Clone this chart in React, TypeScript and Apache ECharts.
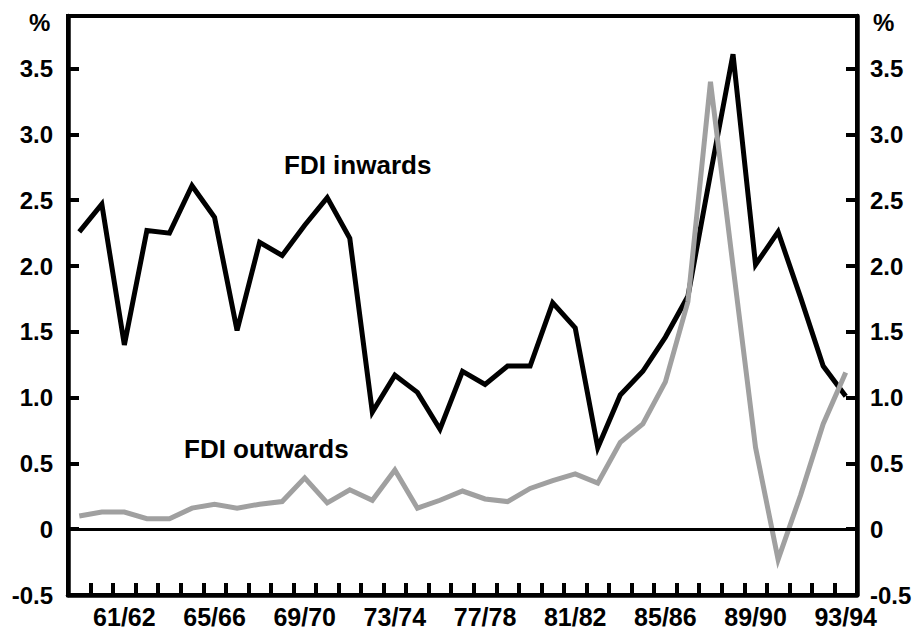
import React, { useEffect, useRef } from "react";
import * as echarts from "echarts";

const years: string[] = [
  "59/60", "60/61", "61/62", "62/63", "63/64", "64/65", "65/66", "66/67", "67/68", "68/69",
  "69/70", "70/71", "71/72", "72/73", "73/74", "74/75", "75/76", "76/77", "77/78", "78/79",
  "79/80", "80/81", "81/82", "82/83", "83/84", "84/85", "85/86", "86/87", "87/88", "88/89",
  "89/90", "90/91", "91/92", "92/93", "93/94",
];

const fdiInwards: number[] = [
  2.26, 2.47, 1.4, 2.27, 2.25, 2.61, 2.37, 1.51, 2.18, 2.08,
  2.31, 2.52, 2.21, 0.89, 1.17, 1.04, 0.76, 1.2, 1.1, 1.24,
  1.24, 1.72, 1.53, 0.62, 1.02, 1.2, 1.46, 1.77, 2.7, 3.61,
  2.01, 2.26, 1.76, 1.24, 1.01,
];

const fdiOutwards: number[] = [
  0.1, 0.13, 0.13, 0.08, 0.08, 0.16, 0.19, 0.16, 0.19, 0.21,
  0.39, 0.2, 0.3, 0.22, 0.45, 0.16, 0.22, 0.29, 0.23, 0.21,
  0.31, 0.37, 0.42, 0.35, 0.66, 0.8, 1.12, 1.73, 3.4, 2.0,
  0.62, -0.23, 0.26, 0.8, 1.19,
];

const yMin = -0.5;
const yMax = 3.9;
const yStep = 0.5;

const FONT = "'Liberation Sans', Arial, Helvetica, sans-serif";

export default function App() {
  const ref = useRef<HTMLDivElement>(null);

  useEffect(() => {
    if (!ref.current) return;
    const chart = echarts.init(ref.current, null, { renderer: "svg" });

    const fmt = (v: number) => {
      const r = Math.round(v / yStep) * yStep;
      if (Math.abs(r - v) > 1e-6) return "";
      if (Math.abs(v) < 1e-9) return "0";
      return v.toFixed(1);
    };

    const yCommon = {
      type: "value" as const,
      min: yMin,
      max: yMax,
      interval: yStep,
      splitLine: { show: false },
      axisLine: { show: true, lineStyle: { color: "#000", width: 4.5 } },
      axisTick: { show: true, inside: true, length: 11, lineStyle: { color: "#000", width: 4 } },
    };

    chart.setOption({
      animation: false,
      backgroundColor: "#fff",
      grid: {
        left: 68,
        right: 60,
        top: 16,
        bottom: 34,
        show: true,
        borderColor: "#000",
        borderWidth: 4,
        backgroundColor: "transparent",
      },
      xAxis: {
        type: "category",
        data: years,
        boundaryGap: true,
        axisLine: { show: true, onZero: false, lineStyle: { color: "#000", width: 4.5 } },
        axisTick: {
          show: true,
          inside: true,
          length: 12,
          interval: 0,
          lineStyle: { color: "#000", width: 4 },
        },
        axisLabel: {
          interval: (index: number) => (index - 2) % 4 === 0,
          color: "#000",
          fontFamily: FONT,
          fontWeight: "bold",
          fontSize: 25,
          margin: 9,
        },
        splitLine: { show: false },
      },
      yAxis: [
        {
          ...yCommon,
          position: "left",
          axisLabel: {
            formatter: fmt,
            color: "#000",
            fontFamily: FONT,
            fontWeight: "bold",
            fontSize: 24,
            margin: 15,
          },
        },
        {
          ...yCommon,
          position: "right",
          axisLabel: {
            formatter: fmt,
            color: "#000",
            fontFamily: FONT,
            fontWeight: "bold",
            fontSize: 24,
            margin: 13,
          },
        },
      ],
      series: [
        {
          name: "FDI inwards",
          type: "line",
          data: fdiInwards,
          symbol: "none",
          lineStyle: { color: "#000", width: 5, join: "miter", miterLimit: 10 },
          markLine: {
            silent: true,
            symbol: "none",
            label: { show: false },
            lineStyle: { color: "#000", width: 3, type: "solid" },
            data: [{ yAxis: 0 }],
          },
          z: 3,
        },
        {
          name: "FDI outwards",
          type: "line",
          data: fdiOutwards,
          symbol: "none",
          lineStyle: { color: "#a0a0a0", width: 5, join: "miter", miterLimit: 10 },
          z: 4,
        },
      ],
      graphic: [
        {
          type: "text",
          left: 29,
          top: 10,
          style: { text: "%", fill: "#000", font: `bold 24px ${FONT}` },
        },
        {
          type: "text",
          left: 873,
          top: 10,
          style: { text: "%", fill: "#000", font: `bold 24px ${FONT}` },
        },
        {
          type: "text",
          left: 284,
          top: 152,
          style: { text: "FDI inwards", fill: "#000", font: `bold 26px ${FONT}` },
        },
        {
          type: "text",
          left: 184,
          top: 436,
          style: { text: "FDI outwards", fill: "#000", font: `bold 26px ${FONT}` },
        },
      ],
    });

    return () => chart.dispose();
  }, []);

  return <div ref={ref} style={{ width: 917, height: 629, position: "absolute", left: 0, top: 0 }} />;
}
